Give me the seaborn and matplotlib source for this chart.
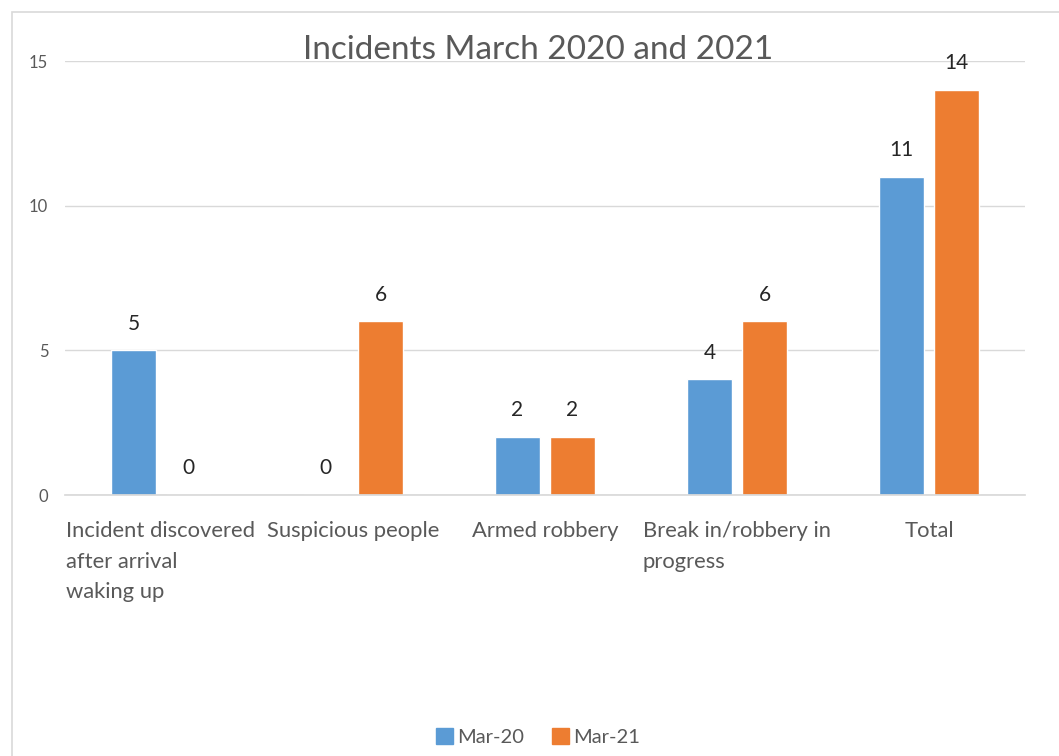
import matplotlib
matplotlib.use("Agg")
import matplotlib.pyplot as plt
import seaborn as sns
import pandas as pd
from matplotlib.patches import Rectangle

categories = ["Incident discovered\nafter arrival\nwaking up", "Suspicious people",
              "Armed robbery", "Break in/robbery in\nprogress", "Total"]
series_names = ["Mar-20", "Mar-21"]
mar20 = [5, 0, 2, 4, 11]
mar21 = [0, 6, 2, 6, 14]
yticks = [0, 5, 10, 15]
title = "Incidents March 2020 and 2021"

sns.set_theme(style="white")
plt.rcParams['font.family'] = ['Lato', 'DejaVu Sans']

df = pd.DataFrame({
    "category": categories * 2,
    "series": [series_names[0]] * len(categories) + [series_names[1]] * len(categories),
    "value": mar20 + mar21,
})

fig = plt.figure(figsize=(10.59, 7.56), dpi=100)
ax = fig.add_axes([65/1059, 1 - 495/756, (1025-65)/1059, (495-61)/756])

palette = {"Mar-20": "#5B9BD5", "Mar-21": "#ED7D31"}
sns.barplot(data=df, x="category", y="value", hue="series", palette=palette,
            width=0.573, gap=0.18, ax=ax, legend=False, saturation=1)

ax.set_ylim(0, 15)
ax.set_xlim(-0.5, len(categories) - 0.5)
ax.set_yticks(yticks)
ax.yaxis.grid(True, color="#D9D9D9", linewidth=1)
ax.set_axisbelow(True)
for s in ["top", "right", "left"]:
    ax.spines[s].set_visible(False)
ax.spines["bottom"].set_color("#D9D9D9")
ax.set_xlabel("")
ax.set_ylabel("")
ax.tick_params(axis="y", length=0, pad=12, labelsize=12, labelcolor="#595959")
ax.tick_params(axis="x", length=0, pad=19, labelsize=15.8, labelcolor="#595959")
for lab in ax.get_xticklabels():
    lab.set_multialignment("left")
    lab.set_linespacing(1.65)
    lab.set_verticalalignment("top")

for cont in ax.containers:
    ax.bar_label(cont, padding=12, fontsize=15, color="#262626")

fig.text(538/1059, 1 - 50/756, title, ha="center", va="center",
         fontsize=24, color="#595959")

handles = [Rectangle((0, 0), 1, 1, color=palette[n]) for n in series_names]
fig.legend(handles, series_names, loc="center", bbox_to_anchor=(538/1059, 1 - 737/756),
           ncol=2, frameon=False, fontsize=14.5, handlelength=0.85, handleheight=0.85,
           handletextpad=0.2, columnspacing=1.4, labelcolor="#595959")

border = Rectangle((12/1059, -0.1), 1.2, 1 - 12/756 + 0.1, transform=fig.transFigure,
                   fill=False, edgecolor="#D9D9D9", linewidth=1.2)
fig.add_artist(border)

fig.savefig("out.png", dpi=100, facecolor="white")
